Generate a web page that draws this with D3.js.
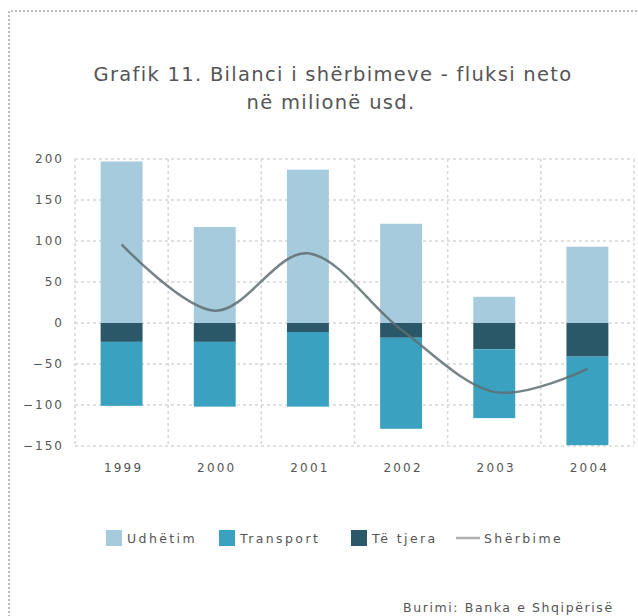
<!DOCTYPE html>
<html><head><meta charset="utf-8">
<script src="https://cdn.jsdelivr.net/npm/d3@7"></script>
<style>body{margin:0;background:#fff}svg{display:block}text{font-family:"DejaVu Sans",sans-serif}</style>
</head><body>
<script>
const years = ["1999","2000","2001","2002","2003","2004"];
const udhetim = [197, 117, 187, 121, 32, 93];
const transport = [-78, -79, -91, -111, -84, -108];
const teTjera = [-23, -23, -11, -18, -32, -41];
const sherbime = [96, 15, 85, -8, -84, -56];
const yTicks = [200, 150, 100, 50, 0, -50, -100, -150];
const legendLabels = ["Udhëtim", "Transport", "Të tjera", "Shërbime"];

const W = 638, H = 616;
const svg = d3.select("body").append("svg").attr("width", W).attr("height", H);

// outer dotted frame
svg.append("path").attr("d", `M9,${H+5} V11 H${W+5}`)
  .attr("fill","none").attr("stroke","#bbb").attr("stroke-width",2).attr("stroke-dasharray","2,2");

svg.append("text").attr("x",333).attr("y",81).attr("text-anchor","middle")
  .attr("font-size",19.5).attr("letter-spacing",1.3).attr("fill","#555").text("Grafik 11. Bilanci i shërbimeve - fluksi neto");
svg.append("text").attr("x",331).attr("y",109).attr("text-anchor","middle")
  .attr("font-size",19.5).attr("letter-spacing",1.3).attr("fill","#555").text("në milionë usd.");

const x = d3.scaleBand().domain(years).range([75, 634]).paddingInner(0.55).paddingOuter(0.275);
const y = d3.scaleLinear().domain([-150, 200]).range([446, 159]);
const xEdges = d3.scaleLinear().domain([0, years.length]).range([75, 634]);

const grid = svg.append("g").attr("stroke","#d6d6d6").attr("stroke-width",1.5).attr("stroke-dasharray","3,3");
yTicks.forEach(t => grid.append("line").attr("x1",75).attr("x2",634).attr("y1",y(t)).attr("y2",y(t)));
d3.range(years.length+1).forEach(i => grid.append("line").attr("x1",xEdges(i)).attr("x2",xEdges(i)).attr("y1",y(200)).attr("y2",y(-150)));

// y axis
const yAxis = svg.append("g").attr("transform","translate(64,0)")
  .call(d3.axisLeft(y).tickValues(yTicks).tickSize(0).tickPadding(0));
yAxis.select(".domain").remove();
yAxis.selectAll("text").attr("font-size",12).attr("letter-spacing",2).attr("fill","#555").attr("font-family","DejaVu Sans");

// x axis
const xAxis = svg.append("g").attr("transform","translate(2,463)")
  .call(d3.axisBottom(x).tickSize(0).tickPadding(0));
xAxis.select(".domain").remove();
xAxis.selectAll("text").attr("font-size",12).attr("letter-spacing",2.2).attr("fill","#555").attr("font-family","DejaVu Sans").attr("dy","0.71em");

const cU = "#a6cbdc", cT = "#3ba1c1", cO = "#2b5868";
const bars = svg.append("g");
years.forEach((yr, i) => {
  const bx = x(yr), bw = x.bandwidth();
  bars.append("rect").attr("x",bx).attr("width",bw).attr("y",y(udhetim[i])).attr("height",y(0)-y(udhetim[i])).attr("fill",cU);
  bars.append("rect").attr("x",bx).attr("width",bw).attr("y",y(0)).attr("height",y(teTjera[i])-y(0)).attr("fill",cO);
  bars.append("rect").attr("x",bx).attr("width",bw).attr("y",y(teTjera[i])).attr("height",y(teTjera[i]+transport[i])-y(teTjera[i])).attr("fill",cT);
});

const line = d3.line().x((d,i)=>x(years[i])+x.bandwidth()/2).y(d=>y(d)).curve(d3.curveCardinal.tension(0));
svg.append("path").datum(sherbime).attr("d",line).attr("fill","none").attr("stroke","#5f6e72").attr("stroke-width",2.5).attr("opacity",0.85);

// legend
const lg = svg.append("g").attr("font-size",12.5).attr("letter-spacing",2.4).attr("fill","#555");
const sq = [[106, cU, legendLabels[0]],[219, cT, legendLabels[1]],[351, cO, legendLabels[2]]];
sq.forEach(([lx,c,t]) => {
  lg.append("rect").attr("x",lx).attr("y",530).attr("width",16).attr("height",16).attr("fill",c);
  lg.append("text").attr("x",lx+21).attr("y",543).attr("fill","#555").text(t);
});
lg.append("line").attr("x1",456).attr("x2",480).attr("y1",538).attr("y2",538).attr("stroke","#b0b0b0").attr("stroke-width",2.5);
lg.append("text").attr("x",484).attr("y",543).attr("fill","#555").text(legendLabels[3]);

svg.append("text").attr("x",403).attr("y",612).attr("font-size",12.5).attr("letter-spacing",1.6).attr("fill","#555").text("Burimi: Banka e Shqipërisë");
</script>
</body></html>
